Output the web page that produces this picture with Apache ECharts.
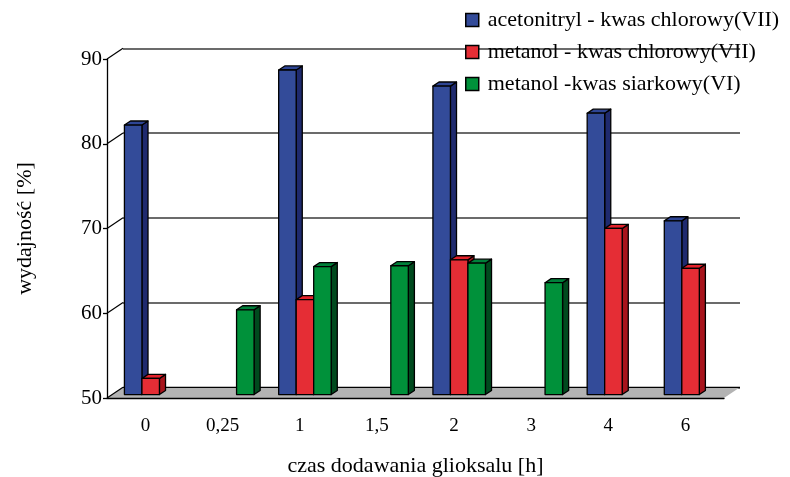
<!DOCTYPE html>
<html>
<head>
<meta charset="utf-8">
<script src="https://cdn.jsdelivr.net/npm/echarts@6/dist/echarts.min.js"></script>
<style>
  html, body { margin: 0; padding: 0; background: #fff; }
  #chart { width: 790px; height: 477px; }
</style>
</head>
<body>
<div id="chart"></div>
<script>
// Czas dodawania glioksalu [h]
const categories = ['0', '0,25', '1', '1,5', '2', '3', '4', '6'];
// Wydajność [%] for each solvent / acid system (null = not measured)
const acetonitrylChlorowy = [81.8, null, 88.3, null, 86.4, null, 83.2, 70.5];
const metanolChlorowy = [51.9, null, 61.2, null, 65.9, null, 69.6, 64.9];
const metanolSiarkowy = [null, 60.0, 65.1, 65.2, 65.5, 63.2, null, null];
const seriesNames = [
  'acetonitryl - kwas chlorowy(VII)',
  'metanol - kwas chlorowy(VII)',
  'metanol -kwas siarkowy(VI)'
];
const yTicks = [50, 60, 70, 80, 90];

// Face colours: front, top, side
const palette = [
  { front: '#334b99', top: '#2e4594', side: '#1f2a6e' },
  { front: '#e52d35', top: '#e3222b', side: '#a8141c' },
  { front: '#00913a', top: '#00803a', side: '#004a1e' }
];

// Perspective offset between the front plane and the back wall
const DX = 16, DY = -10.7;
// Bars sit in the middle of the floor depth
const F0 = 0.32, FD = 0.38;
const BAR_FRAC = 0.227;
const SERIF = '"Liberation Serif", "Times New Roman", serif';

const chart = echarts.init(document.getElementById('chart'), null, { renderer: 'canvas' });

function toPairs(arr) {
  const out = [];
  arr.forEach((v, i) => { if (v !== null) out.push([i, v]); });
  return out;
}

function barRenderer(sIdx) {
  const c = palette[sIdx];
  return function (params, api) {
    const cat = api.value(0), v = api.value(1);
    const base = api.coord([cat, yTicks[0]]);
    const top = api.coord([cat, v]);
    const band = api.size([1, 0])[0];
    const bw = band * BAR_FRAC;
    const x0 = base[0] - 1.5 * bw + sIdx * bw + F0 * DX;
    const x1 = x0 + bw;
    const yt = top[1] + F0 * DY;
    const yb = base[1] + F0 * DY;
    const ddx = FD * DX, ddy = FD * DY;
    const stroke = { stroke: '#000', lineWidth: 1.3, lineJoin: 'round' };
    return {
      type: 'group',
      children: [
        { type: 'polygon', shape: { points: [[x1, yt], [x1 + ddx, yt + ddy], [x1 + ddx, yb + ddy], [x1, yb]] },
          style: Object.assign({ fill: c.side }, stroke) },
        { type: 'polygon', shape: { points: [[x0, yt], [x1, yt], [x1 + ddx, yt + ddy], [x0 + ddx, yt + ddy]] },
          style: Object.assign({ fill: c.top }, stroke) },
        { type: 'rect', shape: { x: x0, y: yt, width: bw, height: yb - yt },
          style: Object.assign({ fill: c.front }, stroke) }
      ]
    };
  };
}

// Grey floor of the plot area
function floorRenderer(params, api) {
  const band = api.size([1, 0])[0];
  const l = api.coord([0, yTicks[0]]);
  const r = api.coord([categories.length - 1, yTicks[0]]);
  const xl = l[0] - band / 2, xr = r[0] + band / 2, y = l[1];
  return {
    type: 'group',
    children: [
      { type: 'polygon', shape: { points: [[xl, y], [xr, y], [xr + DX, y + DY], [xl + DX, y + DY]] },
        style: { fill: '#b3b3b3', stroke: null } },
      { type: 'line', shape: { x1: xl + DX, y1: y + DY, x2: xr + DX, y2: y + DY },
        style: { stroke: '#000', lineWidth: 1.3 } }
    ]
  };
}

// Slanted lines on the left wall at every value tick
function wallRenderer(params, api) {
  const band = api.size([1, 0])[0];
  const p = api.coord([0, api.value(0)]);
  const x = p[0] - band / 2;
  return {
    type: 'line',
    shape: { x1: x, y1: p[1], x2: x + DX, y2: p[1] + DY },
    style: { stroke: '#000', lineWidth: 1.2 }
  };
}

const dataSets = [acetonitrylChlorowy, metanolChlorowy, metanolSiarkowy];

const option = {
  animation: false,
  backgroundColor: '#fff',
  textStyle: { fontFamily: SERIF, color: '#000' },
  legend: {
    orient: 'vertical',
    left: 465,
    top: 9,
    padding: 0,
    itemWidth: 13,
    itemHeight: 13,
    itemGap: 10,
    icon: 'rect',
    data: seriesNames,
    itemStyle: { borderColor: '#000', borderWidth: 1.5 },
    textStyle: { fontFamily: SERIF, fontSize: 22, color: '#000', lineHeight: 22, padding: [0, 0, 0, 4] }
  },
  grid: [
    { left: 107, right: 66, top: 59, bottom: 79, outerBoundsMode: 'none', containLabel: false },
    { left: 123, right: 50, top: 48.3, bottom: 89.3, outerBoundsMode: 'none', containLabel: false }
  ],
  xAxis: [
    {
      type: 'category', gridIndex: 0, data: categories, boundaryGap: true, z: 10,
      axisLine: { lineStyle: { color: '#000', width: 1.3 } },
      axisTick: { length: 8, lineStyle: { color: '#000', width: 1.3 } },
      axisLabel: { fontFamily: SERIF, fontSize: 19, color: '#000', margin: 19 },
      name: 'czas dodawania glioksalu [h]',
      nameLocation: 'middle', nameGap: 57,
      nameTextStyle: { fontFamily: SERIF, fontSize: 22, color: '#000' }
    },
    { type: 'category', gridIndex: 1, data: categories, show: false }
  ],
  yAxis: [
    {
      type: 'value', gridIndex: 0, min: 50, max: 90, interval: 10, z: 10,
      axisLine: { show: true, lineStyle: { color: '#000', width: 1.3 } },
      axisTick: { show: true, length: 4, lineStyle: { color: '#000', width: 1.3 } },
      axisLabel: { fontFamily: SERIF, fontSize: 21, color: '#000', margin: 5 },
      splitLine: { show: false },
      name: 'wydajność [%]',
      nameLocation: 'middle', nameGap: 71, nameRotate: 90,
      nameTextStyle: { fontFamily: SERIF, fontSize: 22, color: '#000' }
    },
    {
      type: 'value', gridIndex: 1, min: 50, max: 90, interval: 10,
      axisLine: { show: false }, axisTick: { show: false }, axisLabel: { show: false },
      splitLine: { show: true, lineStyle: { color: '#3a3a3a', width: 1.5 } }
    }
  ],
  series: [
    {
      type: 'custom', name: 'floor', xAxisIndex: 0, yAxisIndex: 0, z: 1,
      renderItem: floorRenderer, data: [[0]], silent: true
    },
    {
      type: 'custom', name: 'wall', xAxisIndex: 0, yAxisIndex: 0, z: 1,
      renderItem: wallRenderer, data: yTicks.map(v => [v]), silent: true,
      encode: { y: 0 }
    }
  ].concat(dataSets.map((arr, i) => ({
    type: 'custom',
    name: seriesNames[i],
    xAxisIndex: 0, yAxisIndex: 0, z: 3,
    itemStyle: { color: palette[i].front },
    renderItem: barRenderer(i),
    data: toPairs(arr)
  })))
};

chart.setOption(option);
</script>
</body>
</html>
